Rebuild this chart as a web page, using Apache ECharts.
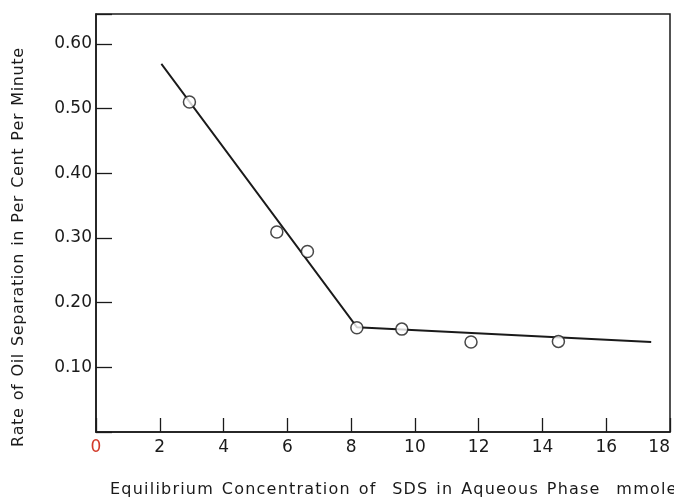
<!DOCTYPE html>
<html>
<head>
<meta charset="utf-8">
<script src="https://cdn.jsdelivr.net/npm/echarts@6/dist/echarts.min.js"></script>
<style>html,body{margin:0;padding:0;background:#fff;overflow:hidden;}#c{width:674px;height:503px;}</style>
</head>
<body>
<div id="c"></div>
<script>
// measured points (open circles)
const pointX = [2.93, 5.67, 6.63, 8.18, 9.59, 11.76, 14.50];
const pointY = [0.510, 0.309, 0.279, 0.161, 0.159, 0.139, 0.140];
// fitted line vertices
const lineX = [2.05, 8.18, 17.41];
const lineY = [0.569, 0.162, 0.139];
// tick labels
const xTicks = ['0','2','4','6','8','10','12','14','16','18'];
const yTicks = ['0.10','0.20','0.30','0.40','0.50','0.60'];
// axis titles (the reference uses wide letter spacing)
const xTitle = 'Equilibrium Concentration of  SDS in Aqueous Phase  mmoles';
const yTitle = 'Rate of Oil Separation in Per Cent Per Minute';

const FONT = 'DejaVu Sans';
const TFONT = '16px "' + FONT + '"';
const ink = '#1a1a1a';
const chart = echarts.init(document.getElementById('c'), null, {renderer: 'canvas'});

const pts = pointX.map((x, i) => [x, pointY[i]]);
const ln = lineX.map((x, i) => [x, lineY[i]]);

const mctx = document.createElement('canvas').getContext('2d');
mctx.font = TFONT;
const cw = c => (c === ' ' ? 1.3 : 1) * mctx.measureText(c).width;

// spread characters of a string over a given length (letter spacing)
function spread(str, len) {
  const chars = str.split('');
  const nat = chars.reduce((s, c) => s + cw(c), 0);
  const ls = (len - nat) / (chars.length - 1);
  const out = [];
  let off = 0;
  chars.forEach(c => { if (c !== ' ') out.push([c, off]); off += cw(c) + ls; });
  return out;
}

const graphics = [];
spread(xTitle, 686 - 110).forEach(([c, off]) => graphics.push({
  type: 'text', x: 110 + off, y: 490, silent: true,
  style: {text: c, fill: ink, font: TFONT, textAlign: 'left', textVerticalAlign: 'middle'}
}));
spread(yTitle, 447 - 48).forEach(([c, off]) => graphics.push({
  type: 'text', x: 19, y: 447 - off, rotation: Math.PI / 2, silent: true,
  style: {text: c, fill: ink, font: TFONT, textAlign: 'left', textVerticalAlign: 'middle'}
}));

chart.setOption({
  animation: false,
  backgroundColor: '#fff',
  grid: {left: 96, right: 4, top: 14, bottom: 71, outerBoundsMode: 'none', containLabel: false,
         show: true, borderColor: ink, borderWidth: 1.5, backgroundColor: 'transparent'},
  xAxis: {
    type: 'value', min: 0, max: 18, interval: 2,
    axisLine: {show: true, lineStyle: {color: ink, width: 1.5}},
    axisTick: {show: true, inside: true, length: 14, lineStyle: {color: ink, width: 1.3}},
    splitLine: {show: false},
    axisLabel: {
      fontFamily: FONT, fontSize: 17, margin: 7, alignMaxLabel: 'right',
      color: (v) => (Math.round(Number(v)) === 0 ? '#d23a2a' : ink),
      formatter: v => { const s = String(Math.round(v)); return xTicks.includes(s) ? s : ''; }
    }
  },
  yAxis: {
    type: 'value', min: 0, max: 0.646, interval: 0.1,
    axisLine: {show: true, lineStyle: {color: ink, width: 1.5}},
    axisTick: {show: true, inside: true, length: 16, lineStyle: {color: ink, width: 1.3}},
    splitLine: {show: false},
    axisLabel: {
      color: ink, fontFamily: FONT, fontSize: 17, margin: 4,
      formatter: v => { const s = v.toFixed(2); return yTicks.includes(s) && Math.abs(v*10 - Math.round(v*10)) < 1e-6 ? s : ''; }
    }
  },
  graphic: graphics,
  series: [
    {type: 'line', data: ln, symbol: 'none', lineStyle: {color: ink, width: 1.9}, z: 2},
    {type: 'scatter', data: pts, symbol: 'circle', symbolSize: 12,
     itemStyle: {color: '#fff', borderColor: ink, borderWidth: 1.5}, z: 3}
  ]
});
</script>
</body>
</html>
